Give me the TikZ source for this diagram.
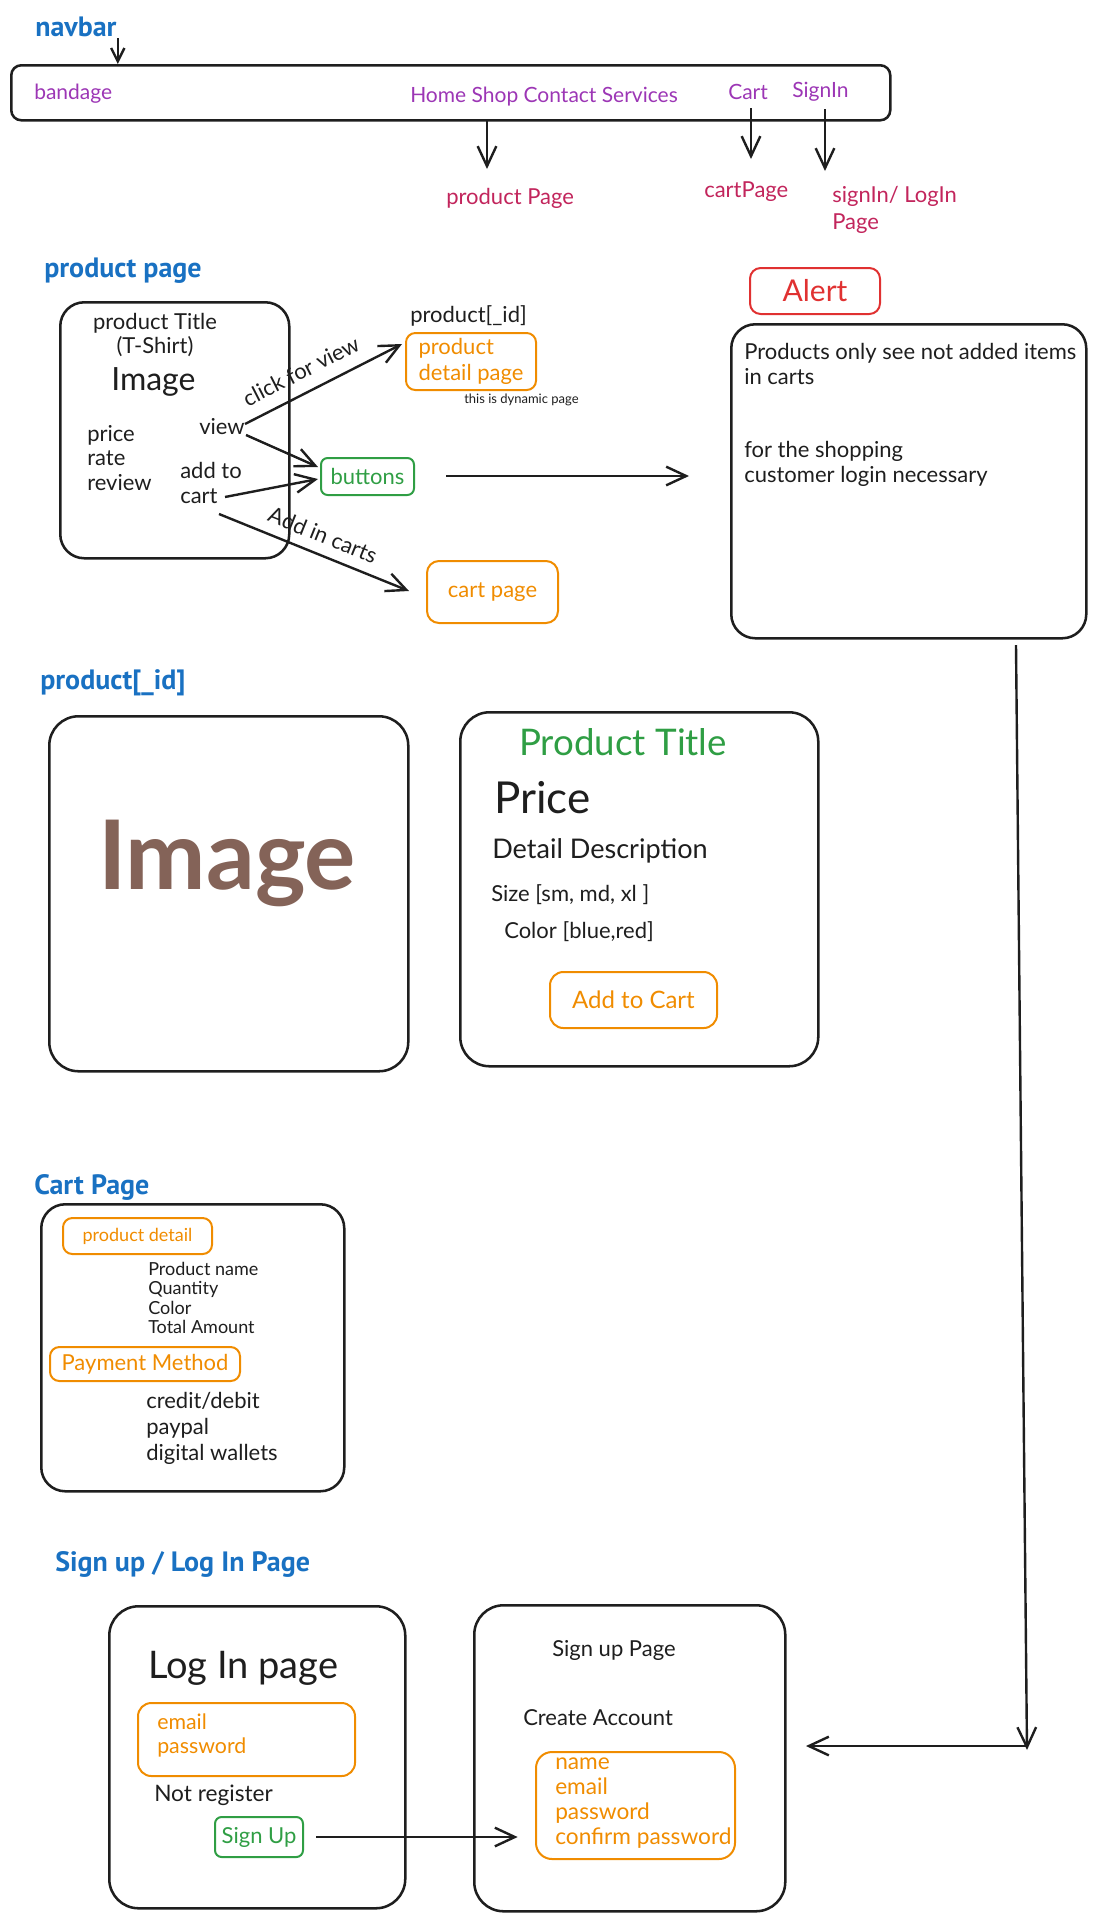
\documentclass[tikz,border=0pt]{standalone}
\usepackage{fontspec}
\setmainfont{Lato}
\newfontfamily\headfont{PT Sans}
\usetikzlibrary{arrows.meta}
\definecolor{ink}{HTML}{1E1E1E}
\definecolor{headblue}{HTML}{1971C2}
\definecolor{navviolet}{HTML}{9C36B5}
\definecolor{navpink}{HTML}{C2255C}
\definecolor{btnorange}{HTML}{F08C00}
\definecolor{btngreen}{HTML}{2F9E44}
\definecolor{alertred}{HTML}{E03131}
\definecolor{imgbrown}{HTML}{846358}
\newcommand{\fsz}[2]{\fontsize{#1}{#2}\selectfont}

\begin{document}
\begin{tikzpicture}[x=0.75pt,y=0.75pt,yscale=-1,xscale=1,
	page/.style={draw=ink,line width=1.9pt,rounded corners=18pt,anchor=north west,inner sep=0pt},
	tag/.style={line width=1.5pt,rounded corners=7pt,anchor=north west,inner sep=0pt,font=\fsz{16.5}{19.5}},
	otag/.style={tag,draw=btnorange,text=btnorange},
	gtag/.style={tag,draw=btngreen,text=btngreen},
	lbl/.style={anchor=west,inner sep=0.75pt,text=ink,font=\fsz{16.5}{18.75}},
	head/.style={anchor=west,inner sep=0.75pt,text=headblue,font=\headfont\bfseries\fsz{21}{25}},
	flow/.style={draw=ink,line width=1.8pt,-{Straight Barb[length=15pt,width=14pt]}}]
\useasboundingbox (0,0) rectangle (1096,1921);

% navbar
\draw (34,27) node [head] (navTitle) {navbar};
\node [page,rounded corners=7.5pt,minimum width=659.25pt,minimum height=41.25pt] (navBar) at (10,64) {};
\draw (33,94) node [lbl,text=navviolet,font=\fsz{15.75}{18}] (navBrand) {bandage};
\draw (409,97) node [lbl,text=navviolet,font=\fsz{15.75}{18}] (navLinks) {Home Shop Contact Services};
\draw (727,92) node [lbl,text=navviolet,font=\fsz{15.75}{18}] (navCart) {Cart};
\draw (791,92) node [lbl,text=navviolet,font=\fsz{15.75}{18}] (navSign) {SignIn};
\draw (445,198) node [lbl,text=navpink] (prodPageLbl) {product Page};
\draw (703,192) node [lbl,text=navpink] (cartPageLbl) {cartPage};
\draw (831,209.5) node [lbl,text=navpink,align=left,font=\fsz{16.5}{20.25}] (signPageLbl) {signIn/ LogIn\\Page};
\coordinate (homeTap) at (487,119);
\coordinate (homeEnd) at (487,169);
\coordinate (cartTap) at (751,108);
\coordinate (cartEnd) at (751,159);
\coordinate (signTap) at (825,109);
\coordinate (signEnd) at (825,171);
\draw [flow,-{Straight Barb[length=10pt,width=10pt]}] (navTitle.south east) -- (navTitle.south east |- navBar.north);
\draw [flow] (homeTap) -- (homeEnd);
\draw [flow] (cartTap) -- (cartEnd);
\draw [flow] (signTap) -- (signEnd);

% product page
\draw (43,271) node [head] (prodTitle) {product page};
\node [page,minimum width=171.75pt,minimum height=192pt] (prodCard) at (59,301) {};
\draw (155,335) node [lbl,anchor=center,align=center,font=\fsz{16.5}{18}] (cardTitle) {product Title\\(T-Shirt)};
\draw (110,382) node [lbl,font=\fsz{24}{28}] (cardImage) {Image};
\draw (86,458) node [lbl,align=left,font=\fsz{16.5}{18.4}] (cardMeta) {price\\rate\\review};
\draw (198,427) node [lbl] (viewLbl) {view};
\draw (179,482.5) node [lbl,align=left] (addLbl) {add to\\cart};
\draw (409,316) node [lbl] (pidLbl) {product[\_id]};
\node [otag,minimum width=97.5pt,minimum height=42.75pt,align=left] (pdpBox) at (405,332) {product\\detail page};
\draw (463,400) node [lbl,font=\fsz{9.75}{11}] (dynLbl) {this is dynamic page};
\node [gtag,rounded corners=5pt,minimum width=69.75pt,minimum height=27.75pt] (buttonsTag) at (320,457) {buttons};
\node [otag,rounded corners=9pt,minimum width=98.25pt,minimum height=46.5pt] (cartTag) at (426,560) {cart page};
\coordinate (viewUp) at (245,424);
\coordinate (pdpIn) at (402,344);
\coordinate (viewDown) at (246,435);
\coordinate (btnInTop) at (318,467);
\coordinate (cartOut) at (225,497);
\coordinate (btnInLow) at (318,479);
\coordinate (cartDown) at (219,514);
\coordinate (cartIn) at (409,591);
\coordinate (btnOut) at (446,476);
\coordinate (alertIn) at (689,476);
\draw [flow] (viewUp) -- (pdpIn);
\draw [flow] (viewDown) -- (btnInTop);
\draw [flow] (cartOut) -- (btnInLow);
\draw [flow] (cartDown) -- (cartIn);
\draw [flow] (btnOut) -- (alertIn);
\draw (301,371) node [lbl,anchor=center,rotate=27] (clickLbl) {click for view};
\draw (323,535) node [lbl,anchor=center,rotate=-22] (addCartsLbl) {Add in carts};

% alert
\node [tag,draw=alertred,text=alertred,rounded corners=8pt,font=\fsz{22.5}{26},minimum width=97.5pt,minimum height=34.5pt] (alertTag) at (749,267) {Alert};
\node [page,minimum width=266.25pt,minimum height=235.5pt] (alertBox) at (730,323) {};
\draw (743,363.5) node [lbl,align=left] (alertNote) {Products only see not added items\\in carts};
\draw (743,463.5) node [lbl,align=left] (alertLogin) {for the shopping\\customer login necessary};
\coordinate (alertDrop) at (1016,645);
\coordinate (alertFoot) at (1027,1750);
\coordinate (alertTurn) at (1027,1746);
\coordinate (signupIn) at (806,1746);
\draw [flow] (alertDrop) -- (alertFoot);
\draw [flow] (alertTurn) -- (signupIn);

% product[_id]
\draw (39,683) node [head] (pidTitle) {product[\_id]};
\node [page,rounded corners=22pt,minimum width=269.25pt,minimum height=266.25pt] (imgCard) at (48,715) {};
\draw (227,863) node [lbl,anchor=center,text=imgbrown,font=\bfseries\fsz{72}{80}] (imgLbl) {Image};
\node [page,rounded corners=22pt,minimum width=268.5pt,minimum height=265.5pt] (infoCard) at (459,711) {};
\draw (518,742) node [lbl,text=btngreen,font=\fsz{27.5}{31}] (infoTitle) {Product Title};
\draw (493,798) node [lbl,font=\fsz{33}{38}] (infoPrice) {Price};
\draw (491,851) node [lbl,font=\fsz{20.3}{24}] (infoDesc) {Detail Description};
\draw (490,895) node [lbl] (infoSize) {Size [sm, md, xl ]};
\draw (503,932) node [lbl] (infoColor) {Color [blue,red]};
\node [otag,rounded corners=10pt,font=\fsz{18}{20},minimum width=125.25pt,minimum height=42pt] (addCartBtn) at (549,971) {Add to Cart};

% cart page
\draw (33,1187) node [head] (cartTitle) {Cart Page};
\node [page,minimum width=227.25pt,minimum height=215.25pt] (cartCard) at (40,1203) {};
\node [otag,font=\fsz{13.5}{15},minimum width=111.75pt,minimum height=27pt] (detailTag) at (62,1217) {product detail};
\draw (147,1298) node [lbl,align=left,font=\fsz{13.5}{14.5}] (detailList) {Product name\\Quantity\\Color\\Total Amount};
\node [otag,minimum width=142.5pt,minimum height=25.5pt] (payTag) at (49,1346) {Payment Method};
\draw (145,1428) node [lbl,align=left,font=\fsz{16.5}{19.5}] (payList) {credit/debit\\paypal\\digital wallets};

% sign up / log in
\draw (54,1564) node [head] (signTitle) {Sign up / Log In Page};
\node [page,rounded corners=22pt,minimum width=222pt,minimum height=226.5pt] (loginCard) at (108,1605) {};
\draw (147,1668) node [lbl,font=\fsz{28.5}{32}] (loginLbl) {Log In page};
\node [otag,rounded corners=10pt,minimum width=162.75pt,minimum height=54.75pt] (loginFields) at (137,1702) {};
\draw (156,1735) node [lbl,align=left,text=btnorange,font=\fsz{16}{18}] (loginList) {email\\password};
\draw (153,1795) node [lbl,font=\fsz{17}{20}] (notRegLbl) {Not register};
\node [gtag,rounded corners=5pt,minimum width=66pt,minimum height=30pt] (signUpBtn) at (214,1816) {Sign Up};
\node [page,rounded corners=22pt,minimum width=233.25pt,minimum height=229.5pt] (signupCard) at (473,1604) {};
\draw (551,1650) node [lbl] (signupLbl) {Sign up Page};
\draw (522,1718) node [lbl] (createLbl) {Create Account};
\node [otag,rounded corners=12pt,minimum width=149.25pt,minimum height=80.25pt] (signupFields) at (535,1751) {};
\draw (554,1803.5) node [lbl,align=left,text=btnorange,font=\fsz{17}{18.75}] (signupList) {name\\email\\password\\confirm password};
\draw [flow,shorten >=13pt] (signUpBtn.east) ++(12,0) coordinate (signOut) -- (signupFields.west |- signOut);
\end{tikzpicture}
\end{document}
